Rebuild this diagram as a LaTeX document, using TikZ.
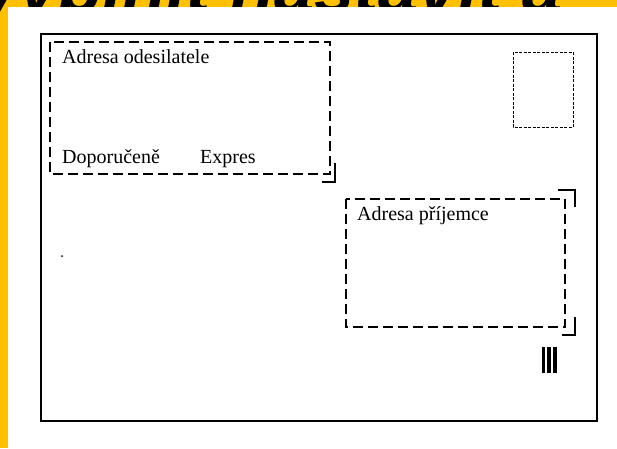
\documentclass[tikz,border=0pt]{standalone}
\usepackage{fontspec}
\setmainfont{Liberation Serif}
\setsansfont{Liberation Sans}
\definecolor{banner}{RGB}{255,192,0}
\begin{document}
\begin{tikzpicture}[x=1pt,y=-1pt,
  envtext/.style={anchor=base west, inner sep=0pt, font=\fontsize{20}{20}\selectfont},
  dashbox/.style={line width=1.2pt, dash pattern=on 10pt off 5pt},
  stampbox/.style={line width=1pt, dash pattern=on 3pt off 1.5pt},
  cornermark/.style={line width=2.6pt},
  frame/.style={line width=2.5pt}]
\useasboundingbox (0,0) rectangle (617,448);
\fill[banner] (0,0) rectangle (617,448);
\begin{scope}
\clip (0,0) rectangle (617,448);
\node[anchor=base west, inner sep=0pt, font=\fontsize{72}{72}\selectfont\sffamily\bfseries\itshape] (title) at (-22,12) {vyplnit nastavit a};
\end{scope}
\fill[white] (8,7) rectangle (617,448);
% envelope
\draw[frame] (41,34) rectangle (597,421);
% sender box
\draw[dashbox] (50,42) rectangle (330,174);
\draw[cornermark] (322,182) -- (335,182) -- (335,163);
\node[envtext] (sender) at (62,63) {Adresa odesilatele};
\node[envtext] (dop) at (62,163) {Doporučeně};
\node[envtext] (expr) at (200,163) {Expres};
% stamp
\draw[stampbox] (513,52) rectangle (573,127);
% recipient box
\draw[dashbox] (346,199) rectangle (565,327);
\draw[cornermark] (558,190) -- (575,190) -- (575,207);
\draw[cornermark] (575,317) -- (575,335) -- (562,335);
\node[envtext] (recv) at (357,220) {Adresa příjemce};
% barcode
\fill (542,347) rectangle (544.5,373);
\fill (546.5,347) rectangle (550.5,373);
\fill (552.5,347) rectangle (557,373);
% dot
\fill (62,256) circle (1pt);
\end{tikzpicture}
\end{document}
